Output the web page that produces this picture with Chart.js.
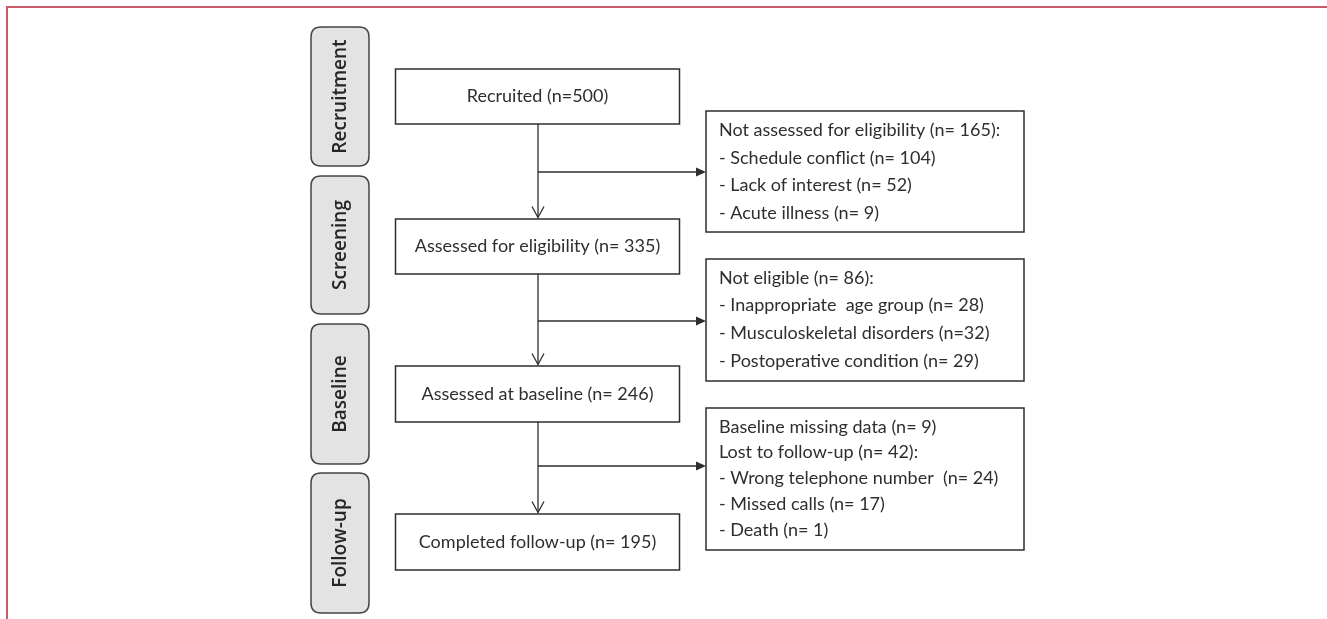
<!DOCTYPE html>
<html>
<head>
<meta charset="utf-8">
<script src="https://cdn.jsdelivr.net/npm/chart.js@4.4.1/dist/chart.umd.min.js"></script>
<style>
  html, body { margin: 0; padding: 0; background: #fff; }
</style>
</head>
<body>
<canvas id="flow" width="1327" height="619"></canvas>
<script>
// stage labels down the left side
const STAGES = ["Recruitment", "Screening", "Baseline", "Follow-up"];

// main flow
const MAIN_LABELS = ["Recruited", "Assessed for eligibility", "Assessed at baseline", "Completed follow-up"];
const MAIN_COUNTS = [500, 335, 246, 195];

// exclusions
const NOT_ASSESSED_TOTAL = 165;
const NOT_ASSESSED_REASONS = ["Schedule conflict", "Lack of interest", "Acute illness"];
const NOT_ASSESSED_COUNTS = [104, 52, 9];

const NOT_ELIGIBLE_TOTAL = 86;
const NOT_ELIGIBLE_REASONS = ["Inappropriate  age group", "Musculoskeletal disorders", "Postoperative condition"];
const NOT_ELIGIBLE_COUNTS = [28, 32, 29];

const BASELINE_MISSING = 9;
const LOST_TOTAL = 42;
const LOST_REASONS = ["Wrong telephone number ", "Missed calls", "Death"];
const LOST_COUNTS = [24, 17, 1];

// layout (in scale units, 0..1327 across, 0..619 down)
const PILL_X = [311, 369];
const PILL_Y = [[27, 166], [176, 314], [324, 464], [473, 613]];
const MAIN_X = [395.5, 679.5];
const MAIN_Y = [[69, 124], [219, 274], [366, 422], [514, 570]];
const SPINE_X = 538;
const SIDE_X = [706, 1024];
const SIDE_Y = [[111, 232], [259, 381], [408, 550]];
const SIDE_GAP = [27.9, 27.8, 25.8];
const BRANCH_Y = [172, 321, 466];

const n = (v, tight) => "(n=" + (tight ? "" : " ") + v + ")";

const mainText = MAIN_LABELS.map((l, i) => l + " " + n(MAIN_COUNTS[i], i === 0));
const sideText = [
  ["Not assessed for eligibility " + n(NOT_ASSESSED_TOTAL) + ":"].concat(
    NOT_ASSESSED_REASONS.map((r, i) => "- " + r + " " + n(NOT_ASSESSED_COUNTS[i]))),
  ["Not eligible " + n(NOT_ELIGIBLE_TOTAL) + ":"].concat(
    NOT_ELIGIBLE_REASONS.map((r, i) => "- " + r + " " + n(NOT_ELIGIBLE_COUNTS[i], i === 1))),
  ["Baseline missing data " + n(BASELINE_MISSING), "Lost to follow-up " + n(LOST_TOTAL) + ":"].concat(
    LOST_REASONS.map((r, i) => "- " + r + " " + n(LOST_COUNTS[i]))),
];

const INK = "#2e2e2e";
const FRAME = "#c85a6b";

function roundRect(ctx, x, y, w, h, r) {
  ctx.beginPath();
  ctx.moveTo(x + r, y);
  ctx.lineTo(x + w - r, y);
  ctx.quadraticCurveTo(x + w, y, x + w, y + r);
  ctx.lineTo(x + w, y + h - r);
  ctx.quadraticCurveTo(x + w, y + h, x + w - r, y + h);
  ctx.lineTo(x + r, y + h);
  ctx.quadraticCurveTo(x, y + h, x, y + h - r);
  ctx.lineTo(x, y + r);
  ctx.quadraticCurveTo(x, y, x + r, y);
  ctx.closePath();
}

const flowPlugin = {
  id: "flow",
  afterDraw(chart) {
    const ctx = chart.ctx;
    const sx = chart.scales.x, sy = chart.scales.y;
    const X = (v) => sx.getPixelForValue(v);
    const Y = (v) => sy.getPixelForValue(v);
    ctx.save();

    // frame
    ctx.strokeStyle = FRAME;
    ctx.lineWidth = 2;
    ctx.beginPath();
    ctx.moveTo(X(7), Y(619));
    ctx.lineTo(X(7), Y(7));
    ctx.lineTo(X(1327), Y(7));
    ctx.stroke();

    // stage pills
    STAGES.forEach((s, i) => {
      const x0 = X(PILL_X[0]), x1 = X(PILL_X[1]);
      const y0 = Y(PILL_Y[i][0]), y1 = Y(PILL_Y[i][1]);
      roundRect(ctx, x0, y0, x1 - x0, y1 - y0, 10);
      ctx.fillStyle = "#e3e3e3";
      ctx.fill();
      ctx.strokeStyle = "#444";
      ctx.lineWidth = 1.5;
      ctx.stroke();
      ctx.save();
      ctx.translate((x0 + x1) / 2, (y0 + y1) / 2);
      ctx.rotate(-Math.PI / 2);
      ctx.fillStyle = "#262626";
      ctx.font = "600 19px 'Open Sans'";
      ctx.textAlign = "center";
      ctx.textBaseline = "middle";
      ctx.fillText(s, 0, 1);
      ctx.restore();
    });

    // connectors
    ctx.strokeStyle = INK;
    ctx.fillStyle = INK;
    ctx.lineWidth = 1.3;
    for (let i = 0; i < 3; i++) {
      const x = X(SPINE_X);
      const top = Y(MAIN_Y[i][1]), tip = Y(MAIN_Y[i + 1][0]) - 1.5;
      ctx.beginPath();
      ctx.moveTo(x, top);
      ctx.lineTo(x, tip);
      ctx.stroke();
      ctx.beginPath();
      ctx.moveTo(x - 6, tip - 11);
      ctx.lineTo(x, tip);
      ctx.lineTo(x + 6, tip - 11);
      ctx.stroke();
      // branch
      const by = Y(BRANCH_Y[i]), end = X(SIDE_X[0]);
      ctx.beginPath();
      ctx.moveTo(x, by);
      ctx.lineTo(end - 9, by);
      ctx.stroke();
      ctx.beginPath();
      ctx.moveTo(end, by);
      ctx.lineTo(end - 10, by - 4.5);
      ctx.lineTo(end - 10, by + 4.5);
      ctx.closePath();
      ctx.fill();
    }

    // main boxes
    ctx.lineWidth = 1.5;
    ctx.font = "18px Lato";
    ctx.textBaseline = "middle";
    mainText.forEach((t, i) => {
      const x0 = X(MAIN_X[0]), x1 = X(MAIN_X[1]);
      const y0 = Y(MAIN_Y[i][0]), y1 = Y(MAIN_Y[i][1]);
      ctx.fillStyle = "#fff";
      ctx.fillRect(x0, y0, x1 - x0, y1 - y0);
      ctx.strokeRect(x0, y0, x1 - x0, y1 - y0);
      ctx.fillStyle = INK;
      ctx.textAlign = "center";
      ctx.fillText(t, (x0 + x1) / 2, (y0 + y1) / 2);
    });

    // side boxes
    sideText.forEach((lines, i) => {
      const x0 = X(SIDE_X[0]), x1 = X(SIDE_X[1]);
      const y0 = Y(SIDE_Y[i][0]), y1 = Y(SIDE_Y[i][1]);
      ctx.fillStyle = "#fff";
      ctx.fillRect(x0, y0, x1 - x0, y1 - y0);
      ctx.strokeRect(x0, y0, x1 - x0, y1 - y0);
      ctx.fillStyle = INK;
      ctx.textAlign = "left";
      lines.forEach((t, j) => {
        ctx.fillText(t, x0 + 13, y0 + 18.8 + j * SIDE_GAP[i]);
      });
    });

    ctx.restore();
  },
};

new Chart(document.getElementById("flow"), {
  type: "scatter",
  data: { datasets: [{ data: [], pointRadius: 0 }] },
  options: {
    responsive: false,
    animation: false,
    layout: { padding: 0 },
    scales: {
      x: { type: "linear", min: 0, max: 1327, display: false },
      y: { type: "linear", min: 0, max: 619, reverse: true, display: false },
    },
    plugins: { legend: { display: false }, tooltip: { enabled: false } },
  },
  plugins: [flowPlugin],
});
</script>
</body>
</html>
